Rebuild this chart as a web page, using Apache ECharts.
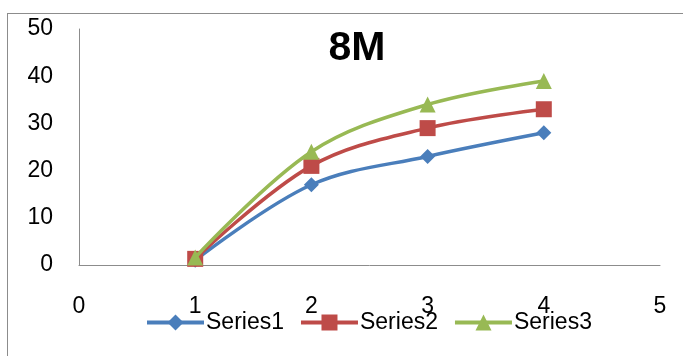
<!DOCTYPE html>
<html>
<head>
<meta charset="utf-8">
<script src="https://cdn.jsdelivr.net/npm/echarts@6/dist/echarts.min.js"></script>
<style>
    html, body { margin: 0; padding: 0; background: #fff; }
    #frame { position: absolute; left: 7px; top: 13px; width: 700px; height: 360px; border: 1px solid #8c8c8c; }
    #chart { position: absolute; left: 0; top: 0; width: 683px; height: 356px; }
</style>
</head>
<body>
<div id="frame"></div>
<div id="chart"></div>
<script>
// Chart data
const xValues = [1, 2, 3, 4];
const series1 = [1, 17, 23, 28];
const series2 = [1.3, 21, 29, 33];
const series3 = [1.6, 24, 34, 39];
const seriesNames = ['Series1', 'Series2', 'Series3'];
const colors = ['#4a7ebb', '#be4b48', '#98b954'];
const symbols = ['diamond', 'rect', 'triangle'];
const symbolSizes = [15, 16, 16];

const font = 'Liberation Sans, Arial, sans-serif';

const chart = echarts.init(document.getElementById('chart'));

const allSeries = [series1, series2, series3].map((vals, i) => ({
    name: seriesNames[i],
    type: 'line',
    smooth: 0.35,
    data: vals.map((v, j) => [xValues[j], v]),
    symbol: symbols[i],
    symbolSize: symbolSizes[i],
    itemStyle: { color: colors[i] },
    lineStyle: { color: colors[i], width: 3.5 },
    z: 2 + i
}));

const option = {
    animation: false,
    title: {
        text: '8M',
        left: 352,
        top: 23,
        textAlign: 'center',
        textStyle: { fontFamily: font, fontSize: 41, fontWeight: 'bold', color: '#000' }
    },
    legend: {
        data: seriesNames,
        left: 140,
        top: 306,
        itemWidth: 57,
        itemHeight: 20,
        itemGap: 15,
        lineStyle: { width: 4 },
        textStyle: { fontFamily: font, fontSize: 23, color: '#000', padding: [0, 0, 0, -3] }
    },
    grid: { left: 79, right: 23, top: 29, bottom: 91 },
    xAxis: {
        type: 'value',
        min: 0,
        max: 5,
        interval: 1,
        axisLine: { show: true, lineStyle: { color: '#8c8c8c', width: 1 } },
        axisTick: { show: false },
        splitLine: { show: false },
        axisLabel: { margin: 30, fontFamily: font, fontSize: 23, color: '#000' }
    },
    yAxis: {
        type: 'value',
        min: 0,
        max: 50,
        interval: 10,
        axisLine: { show: true, lineStyle: { color: '#8c8c8c', width: 1 } },
        axisTick: { show: false },
        splitLine: { show: false },
        axisLabel: { margin: 26, fontFamily: font, fontSize: 23, color: '#000' }
    },
    series: allSeries
};

chart.setOption(option);
</script>
</body>
</html>
